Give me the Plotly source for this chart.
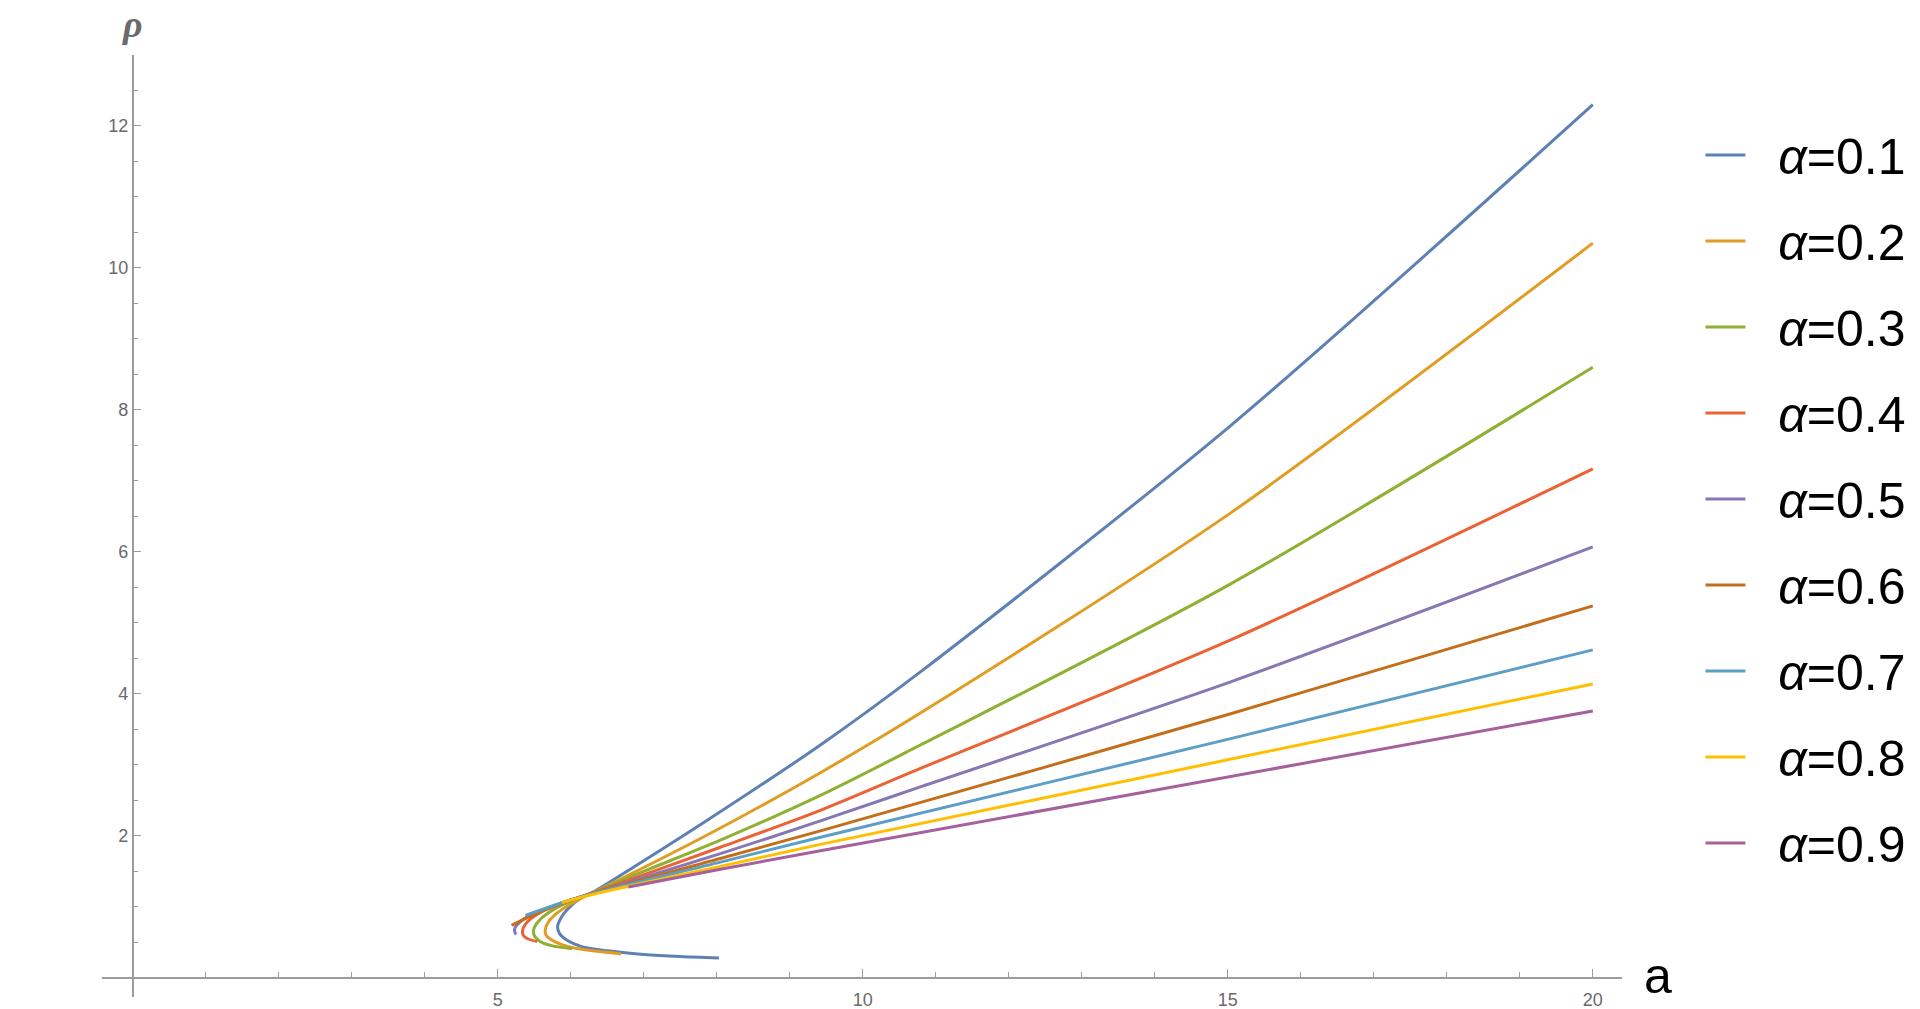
import plotly.graph_objects as go

# ---- data ----
alpha_labels = ["0.1", "0.2", "0.3", "0.4", "0.5", "0.6", "0.7", "0.8", "0.9"]
colors = ["#5E81B5", "#E19C24", "#8FB032", "#EB6235", "#8778B3",
          "#C56E1A", "#5D9EC7", "#FFBF00", "#A5609D"]

a_01 = [8.03, 7.5, 7.0, 6.5, 6.15, 5.95, 5.85, 5.82, 5.87, 5.95, 6.13, 6.31, 6.8, 7.87, 9.42, 10.79, 15.04, 20.0]
rho_01 = [0.28, 0.30, 0.33, 0.38, 0.44, 0.53, 0.62, 0.72, 0.85, 0.96, 1.12, 1.21, 1.52, 2.22, 3.28, 4.31, 7.78, 12.30]

a_02 = [6.69, 6.3, 6.0, 5.78, 5.67, 5.65, 5.69, 5.8, 5.98, 6.2, 6.8, 8.05, 9.42, 10.79, 15.04, 20.0]
rho_02 = [0.34, 0.38, 0.43, 0.51, 0.59, 0.67, 0.78, 0.90, 1.03, 1.15, 1.45, 2.11, 2.89, 3.73, 6.55, 10.35]

a_03 = [6.02, 5.75, 5.57, 5.50, 5.49, 5.53, 5.62, 5.81, 6.2, 7.0, 8.05, 9.42, 10.79, 15.04, 20.0]
rho_03 = [0.41, 0.45, 0.52, 0.60, 0.67, 0.76, 0.86, 0.99, 1.16, 1.50, 1.94, 2.57, 3.28, 5.55, 8.60]

a_04 = [5.54, 5.41, 5.35, 5.34, 5.37, 5.45, 5.6, 5.85, 6.2, 8.05, 9.42, 10.79, 15.04, 20.0]
rho_04 = [0.51, 0.55, 0.60, 0.66, 0.74, 0.83, 0.93, 1.04, 1.16, 1.84, 2.36, 2.95, 4.76, 7.17]

a_05 = [5.25, 5.23, 5.24, 5.30, 5.42, 5.6, 5.85, 6.2, 8.05, 9.42, 10.79, 15.04, 20.0]
rho_05 = [0.61, 0.66, 0.71, 0.78, 0.87, 0.95, 1.05, 1.16, 1.75, 2.21, 2.69, 4.17, 6.07]

a_06 = [5.19, 5.45, 5.8, 6.2, 8.05, 9.42, 15.04, 20.0]
rho_06 = [0.74, 0.87, 1.02, 1.16, 1.68, 2.07, 3.72, 5.24]

a_07 = [5.38, 5.8, 6.2, 8.05, 9.42, 15.04, 20.0]
rho_07 = [0.88, 1.03, 1.16, 1.63, 1.98, 3.37, 4.62]

a_08 = [5.88, 6.2, 6.79, 8.05, 9.42, 20.0]
rho_08 = [1.06, 1.15, 1.29, 1.57, 1.88, 4.14]

a_09 = [6.79, 8.05, 9.42, 20.0]
rho_09 = [1.28, 1.53, 1.79, 3.76]

x_major = [5, 10, 15, 20]
x_minor = [1, 2, 3, 4, 6, 7, 8, 9, 11, 12, 13, 14, 16, 17, 18, 19]
y_major = [2, 4, 6, 8, 10, 12]
y_minor = [0.5, 1, 1.5, 2.5, 3, 3.5, 4.5, 5, 5.5, 6.5, 7, 7.5, 8.5, 9, 9.5,
           10.5, 11, 11.5, 12.5]

series_a = [a_01, a_02, a_03, a_04, a_05, a_06, a_07, a_08, a_09]
series_rho = [rho_01, rho_02, rho_03, rho_04, rho_05, rho_06, rho_07, rho_08, rho_09]

X_RANGE = [-0.42, 20.4]
Y_RANGE = [-0.27, 13.0]
AXIS_COL = "#9c9c9c"
LABEL_COL = "#6a6a6a"
FONT = "Liberation Sans"
NB = "\u00a0"

fig = go.Figure()
for lab, col, xs, ys in zip(alpha_labels, colors, series_a, series_rho):
    fig.add_trace(go.Scatter(
        x=xs, y=ys, mode="lines",
        line=dict(color=col, width=3, shape="spline", smoothing=0.8),
        name=NB + NB + "<i>α</i>=" + lab, legendgroup=lab,
    ))

xpos = (0 - Y_RANGE[0]) / (Y_RANGE[1] - Y_RANGE[0])
ypos = (0 - X_RANGE[0]) / (X_RANGE[1] - X_RANGE[0])

fig.update_layout(
    width=1920, height=1009,
    margin=dict(l=102, r=298, t=55, b=12, autoexpand=False),
    paper_bgcolor="white", plot_bgcolor="white",
    showlegend=True,
    legend=dict(
        x=1.0516, xanchor="left", y=0.9353, yanchor="top",
        font=dict(size=50, family=FONT, color="black"),
        bgcolor="rgba(0,0,0,0)", tracegroupgap=18, itemwidth=40,
    ),
    xaxis=dict(
        range=X_RANGE, showgrid=False, zeroline=False, automargin=False,
        showline=True, linecolor=AXIS_COL, linewidth=1.5,
        anchor="free", position=xpos,
        ticks="inside", ticklen=8, tickwidth=1.2, tickcolor=AXIS_COL,
        tickmode="array", tickvals=x_major, ticklabelstandoff=6,
        tickfont=dict(size=18, family=FONT, color=LABEL_COL),
        minor=dict(tickmode="array", tickvals=x_minor, ticks="inside",
                   ticklen=5, tickwidth=1, tickcolor=AXIS_COL, showgrid=False),
    ),
    yaxis=dict(
        range=Y_RANGE, showgrid=False, zeroline=False, automargin=False,
        showline=True, linecolor=AXIS_COL, linewidth=1.5,
        anchor="free", position=ypos,
        ticks="inside", ticklen=8, tickwidth=1.2, tickcolor=AXIS_COL,
        tickmode="array", tickvals=y_major,
        tickfont=dict(size=18, family=FONT, color=LABEL_COL),
        minor=dict(tickmode="array", tickvals=y_minor, ticks="inside",
                   ticklen=5, tickwidth=1, tickcolor=AXIS_COL, showgrid=False),
    ),
    annotations=[
        dict(text="<b><i>ρ</i></b>", xref="paper", x=ypos, yref="paper", y=1,
             xanchor="center", yanchor="top", yshift=54, showarrow=False,
             font=dict(size=38, family="Liberation Serif", color=LABEL_COL)),
        dict(text="a", xref="paper", x=(1658 - 102) / 1520, yref="paper", y=xpos,
             xanchor="center", yanchor="middle", yshift=2, showarrow=False,
             font=dict(size=50, family=FONT, color="black")),
    ],
)

fig.write_html("out.html", config={"displayModeBar": False},
               post_script="document.body.style.margin='0';document.body.style.overflow='hidden';")
